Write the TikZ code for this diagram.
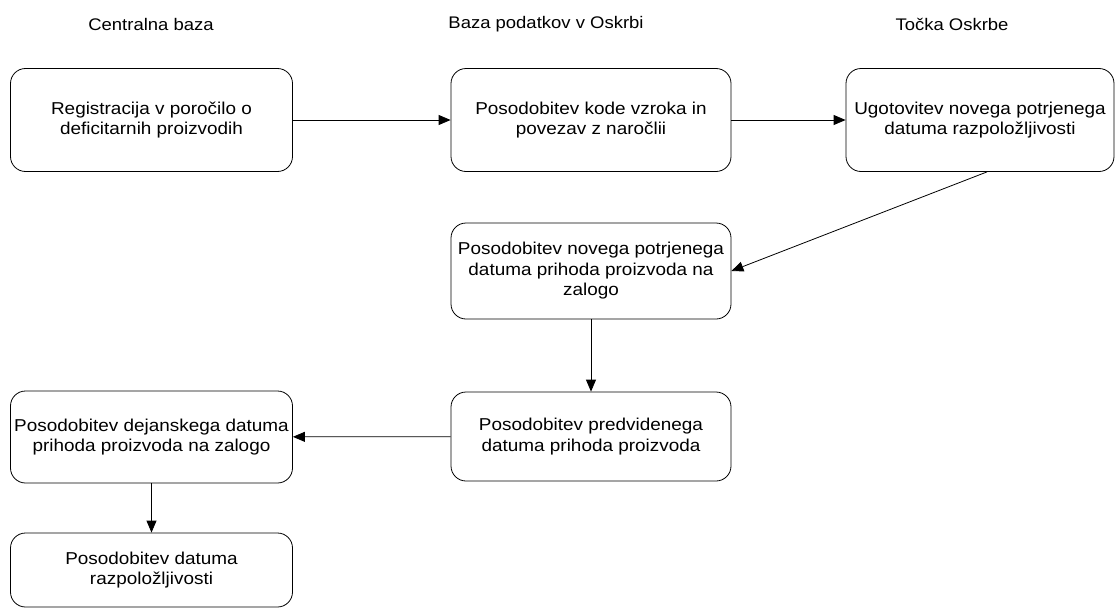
\documentclass[tikz,border=0pt]{standalone}
\usepackage{fontspec}
\setmainfont[FakeStretch=1.1]{Liberation Sans}
\usetikzlibrary{arrows.meta}

\tikzset{
  stepbox/.style={draw=black, line width=0.8pt, rounded corners=15pt, align=center,
    inner sep=2pt, font=\fontsize{17.2}{20.5}\selectfont},
  lanehead/.style={font=\fontsize{16.8}{20}\selectfont},
  flow/.style={draw=black, line width=0.8pt, -{Triangle[length=12pt,width=10pt]}}
}

\begin{document}
\begin{tikzpicture}[x=1pt, y=-1pt]
  \useasboundingbox (0,0) rectangle (1115,610);

  % swimlane headings
  \node[lanehead] (h1) at (151,24) {Centralna baza};
  \node[lanehead] (h2) at (546,24) {Baza podatkov v Oskrbi};
  \node[lanehead] (h3) at (952,24) {Točka Oskrbe};

  % process steps
  \node[stepbox, minimum width=282pt, minimum height=103pt] (b1) at (151.5,120)
    {Registracija v poročilo o\\deficitarnih proizvodih};
  \node[stepbox, minimum width=280pt, minimum height=103pt] (b2) at (591,120)
    {Posodobitev kode vzroka in\\povezav z naročlii};
  \node[stepbox, minimum width=268pt, minimum height=103pt] (b3) at (980,120)
    {Ugotovitev novega potrjenega\\datuma razpoložljivosti};
  \node[stepbox, minimum width=280pt, minimum height=96pt] (b4) at (591,271)
    {Posodobitev novega potrjenega\\datuma prihoda proizvoda na\\zalogo};
  \node[stepbox, minimum width=280pt, minimum height=89pt] (b5) at (591,436.5)
    {Posodobitev predvidenega\\datuma prihoda proizvoda};
  \node[stepbox, minimum width=282pt, minimum height=92pt] (b6) at (151.5,437)
    {Posodobitev dejanskega datuma\\prihoda proizvoda na zalogo};
  \node[stepbox, minimum width=282pt, minimum height=74pt] (b7) at (151.5,570)
    {Posodobitev datuma\\razpoložljivosti};

  % connectors
  \draw[flow] (b1) -- (b2);
  \draw[flow] (b2) -- (b3);
  \draw[flow] ([xshift=7pt]b3.south) -- (b4.east);
  \draw[flow] (b4) -- (b5);
  \draw[flow] (b5) -- (b6);
  \draw[flow] (b6) -- (b7);
\end{tikzpicture}
\end{document}
